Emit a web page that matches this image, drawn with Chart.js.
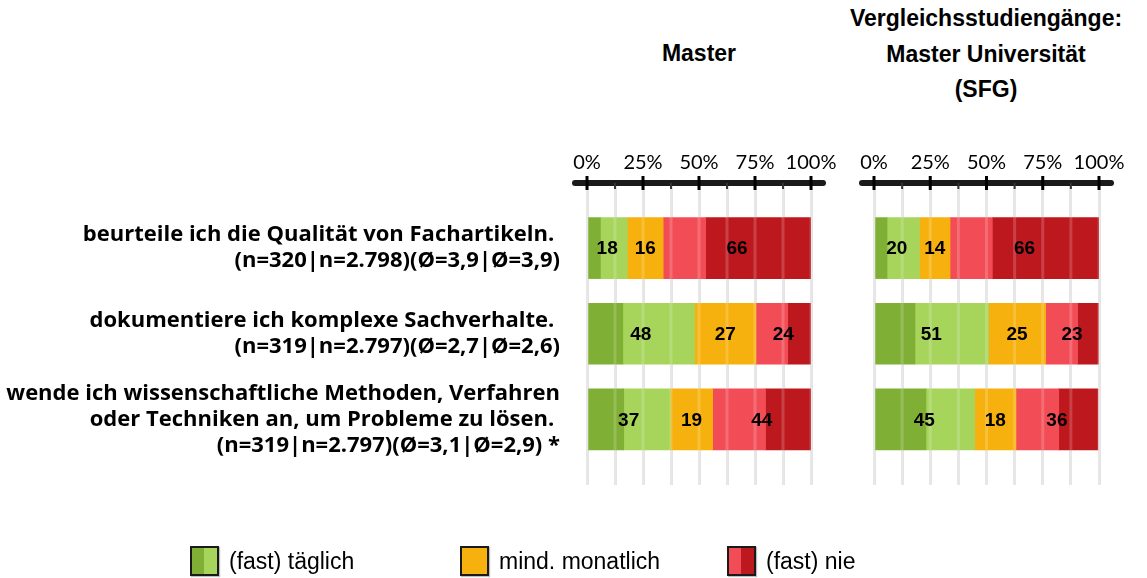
<!DOCTYPE html>
<html lang="de">
<head>
<meta charset="utf-8">
<title>Kompetenzen im Studium</title>
<script src="https://cdn.jsdelivr.net/npm/chart.js@4.4.1/dist/chart.umd.min.js"></script>
<style>
  body { margin: 0; background: #fff; }
  #wrap { position: relative; width: 1147px; height: 578px; overflow: hidden;
          font-family: "Liberation Sans", Arial, sans-serif; color: #000; }
  canvas { position: absolute; top: 0; }
  #chartMaster { left: 0; }
  #chartVergleich { left: 845px; }
  .head { position: absolute; width: 340px; text-align: center; font-weight: bold;
          font-size: 23px; line-height: 35.5px; }
  .legend-item { position: absolute; top: 546px; height: 30px; display: flex; align-items: center;
                 font-size: 23px; white-space: nowrap; }
  .swatch { box-sizing: border-box; width: 29px; height: 30px; border: 2px solid #1a1a1a; margin-right: 10px;
            box-shadow: 1px 1px 1px rgba(0,0,0,0.25); }
</style>
</head>
<body>
<div id="wrap">
  <div class="head" style="left:529px; top:36px;">Master</div>
  <div class="head" style="left:816px; top:1px;">Vergleichsstudiengänge:<br>Master Universität<br>(SFG)</div>

  <canvas id="chartMaster" width="845" height="578"></canvas>
  <canvas id="chartVergleich" width="302" height="578"></canvas>

  <div class="legend-item" style="left:190px;">
    <span class="swatch" style="background:linear-gradient(90deg,#80AF35 50%,#A7D55C 50%);"></span>(fast) täglich
  </div>
  <div class="legend-item" style="left:460px;">
    <span class="swatch" style="background:#F7B10E;"></span>mind. monatlich
  </div>
  <div class="legend-item" style="left:727px;">
    <span class="swatch" style="background:linear-gradient(90deg,#F24D56 50%,#BE181F 50%);"></span>(fast) nie
  </div>
</div>

<script>
// Items (one per bar row), shown as multi-line labels on the left
const items = [
  ['beurteile ich die Qualität von Fachartikeln. ', '(n=320|n=2.798)(Ø=3,9|Ø=3,9)'],
  ['dokumentiere ich komplexe Sachverhalte. ', '(n=319|n=2.797)(Ø=2,7|Ø=2,6)'],
  ['wende ich wissenschaftliche Methoden, Verfahren', 'oder Techniken an, um Probleme zu lösen. ', '(n=319|n=2.797)(Ø=3,1|Ø=2,9) *']
];

const answerNames = ['täglich', 'fast täglich', 'mind. monatlich', 'selten', 'nie'];
const answerColors = ['#80AF35', '#A7D55C', '#F7B10E', '#F24D56', '#BE181F'];

// Percentages per answer, Master
const masterTaeglich     = [6.0, 16.0, 16.4];
const masterFastTaeglich = [12.0, 32.0, 20.8];
const masterMonatlich    = [16.0, 27.4, 18.9];
const masterSelten       = [19.0, 14.2, 23.6];
const masterNie          = [47.0, 10.2, 20.3];

// Percentages per answer, Vergleichsstudiengänge (Master Universität, SFG)
const vglTaeglich     = [5.8, 18.2, 23.1];
const vglFastTaeglich = [14.4, 32.7, 21.6];
const vglMonatlich    = [13.6, 25.4, 18.4];
const vglSelten       = [18.8, 14.2, 19.0];
const vglNie          = [47.4, 9.2, 17.4];

const xTicks = [0, 12.5, 25, 37.5, 50, 62.5, 75, 87.5, 100];

// answers summed into one printed number: (fast) täglich | monatlich | (fast) nie
const labelGroups = [[0, 1], [2], [3, 4]];

function buildDatasets(series) {
  return series.map((values, s) => ({
    label: answerNames[s],
    data: values.map((v, i) => ({ x: v, y: i })),
    backgroundColor: answerColors[s],
    borderWidth: 0,
    barThickness: 61
  }));
}

// thick black axis line on top with tick marks
const topAxisPlugin = {
  id: 'topAxis',
  afterDraw(chart) {
    const { ctx, chartArea, scales } = chart;
    const y = chartArea.top;
    ctx.save();
    ctx.strokeStyle = '#1a1a1a';
    ctx.lineCap = 'round';
    ctx.lineWidth = 6;
    ctx.beginPath();
    ctx.moveTo(chartArea.left - 12, y);
    ctx.lineTo(chartArea.right + 12, y);
    ctx.stroke();
    ctx.lineCap = 'butt';
    xTicks.forEach(t => {
      const x = scales.x.getPixelForValue(t);
      ctx.beginPath();
      if (t % 25 === 0) {
        ctx.lineWidth = 3;
        ctx.strokeStyle = '#000';
        ctx.moveTo(x, y - 7);
        ctx.lineTo(x, y + 7);
      } else {
        ctx.lineWidth = 2;
        ctx.strokeStyle = '#333';
        ctx.moveTo(x, y);
        ctx.lineTo(x, y + 6);
      }
      ctx.stroke();
    });
    ctx.restore();
  }
};

// faint light stripes over the bars + the summed values
const barLabelPlugin = {
  id: 'barLabels',
  afterDatasetsDraw(chart) {
    const { ctx, chartArea, scales } = chart;
    ctx.save();
    ctx.strokeStyle = 'rgba(255,255,255,0.18)';
    ctx.lineWidth = 3;
    xTicks.forEach(t => {
      const x = scales.x.getPixelForValue(t);
      ctx.beginPath();
      ctx.moveTo(x, chartArea.top);
      ctx.lineTo(x, chartArea.bottom);
      ctx.stroke();
    });

    ctx.font = 'bold 19px "Liberation Sans", Arial, sans-serif';
    ctx.fillStyle = '#000';
    ctx.textAlign = 'center';
    ctx.textBaseline = 'middle';
    const sets = chart.data.datasets;
    items.forEach((_, i) => {
      let start = 0;
      labelGroups.forEach(group => {
        const sum = group.reduce((acc, s) => acc + sets[s].data[i].x, 0);
        const mid = start + sum / 2;
        ctx.fillText(String(Math.round(sum)), scales.x.getPixelForValue(mid), scales.y.getPixelForValue(i) + 1);
        start += sum;
      });
    });
    ctx.restore();
  }
};

function makeChart(canvasId, series, showItems, padding) {
  return new Chart(document.getElementById(canvasId), {
    type: 'bar',
    data: { datasets: buildDatasets(series) },
    options: {
      indexAxis: 'y',
      responsive: false,
      animation: false,
      layout: { padding },
      plugins: { legend: { display: false }, tooltip: { enabled: false } },
      scales: {
        x: {
          type: 'linear',
          position: 'top',
          stacked: true,
          min: 0,
          max: 100,
          afterBuildTicks: scale => { scale.ticks = xTicks.map(v => ({ value: v })); },
          afterFit: scale => { scale.height = 183; },
          ticks: {
            autoSkip: false,
            maxRotation: 0,
            minRotation: 0,
            padding: 8,
            color: '#000',
            font: { family: 'Lato', size: 20 },
            callback: v => (v % 25 === 0 ? v + '%' : '')
          },
          grid: { color: '#e2e2e2', lineWidth: 3, drawTicks: false },
          border: { display: false }
        },
        y: {
          type: 'linear',
          stacked: true,
          reverse: true,
          offset: false,
          min: -0.76,
          max: 2.766,
          display: showItems,
          afterBuildTicks: scale => { scale.ticks = items.map((_, i) => ({ value: i })); },
          afterFit: scale => { if (showItems) scale.width = 587; },
          ticks: {
            autoSkip: false,
            padding: 27,
            color: '#000',
            font: { family: 'Open Sans', size: 22, weight: 'bold', lineHeight: 1.18 },
            callback: v => items[v]
          },
          grid: { display: false, drawTicks: false },
          border: { display: false }
        }
      }
    },
    plugins: [barLabelPlugin, topAxisPlugin]
  });
}

makeChart('chartMaster',
  [masterTaeglich, masterFastTaeglich, masterMonatlich, masterSelten, masterNie],
  true, { left: 0, right: 34, top: 0, bottom: 93 });

makeChart('chartVergleich',
  [vglTaeglich, vglFastTaeglich, vglMonatlich, vglSelten, vglNie],
  false, { left: 29, right: 48, top: 0, bottom: 93 });
</script>
</body>
</html>
